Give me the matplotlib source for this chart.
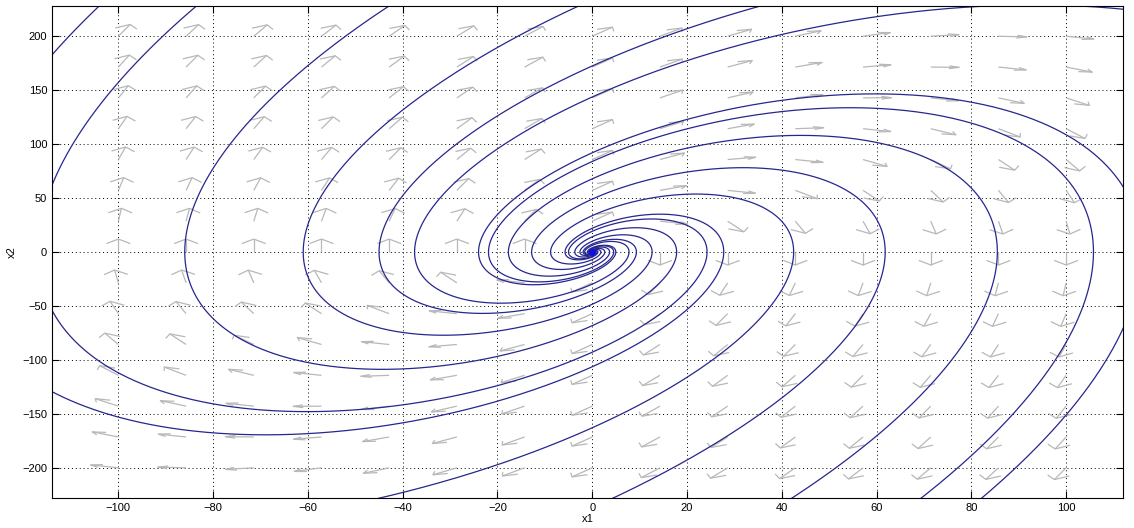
import numpy as np
import matplotlib.pyplot as plt
from matplotlib.collections import LineCollection

# linear system x' = A x (unstable focus, clockwise)
A = np.array([[0.0, 0.963],
              [-4.667, 1.9]])

# x1 values where each drawn orbit crosses the negative x1 axis
x1_seeds = [-134.0, -117.0, -86.0, -61.0, -45.0, -37.5, -24.0, -21.9, -17.7, -12.8, -8.8]

# direction field grid
x1_grid = np.linspace(-100, 100, 15)
x2_grid = np.linspace(-200, 200, 15)

x_ticks = np.arange(-100, 101, 20)
y_ticks = np.arange(-200, 201, 50)
x_lim = (-114, 112)
y_lim = (-228, 228)

plt.rcParams['font.family'] = ['Liberation Sans', 'DejaVu Sans']

fig = plt.figure(figsize=(11.34, 5.28), dpi=100)
ax = fig.add_axes([0.0459, 0.0568, 0.9444, 0.9318])

# direction field, arrows of fixed length in grid-cell units, heads built like quiver.m
X1, X2 = np.meshgrid(x1_grid, x2_grid)
U = A[0, 0] * X1 + A[0, 1] * X2
V = A[1, 0] * X1 + A[1, 1] * X2
dx = x1_grid[1] - x1_grid[0]
dy = x2_grid[1] - x2_grid[0]
L = np.hypot(U / dx, V / dy)
L[L == 0] = 1
u = 0.42 * dx * (U / dx) / L
v = 0.42 * dy * (V / dy) / L
alpha, beta = 0.35, 0.6
segs = []
for x, y, a, b in zip(X1.ravel(), X2.ravel(), u.ravel(), v.ravel()):
    tip = (x + a, y + b)
    segs.append([(x, y), tip])
    segs.append([(x + a - alpha * (a + beta * b), y + b - alpha * (b - beta * a)), tip,
                 (x + a - alpha * (a - beta * b), y + b - alpha * (b + beta * a))])
ax.add_collection(LineCollection(segs, colors='#b8b8b8', linewidths=0.9))

# orbits from the closed-form solution x(t) = V exp(Lt) V^-1 x0
lam, Vec = np.linalg.eig(A)
Vinv = np.linalg.inv(Vec)
growth = lam.real.max()
for r0 in x1_seeds:
    c = Vinv @ np.array([r0, 0.0])
    r = abs(r0)
    t = np.linspace(-np.log(r / 0.05) / growth, np.log(3000 / r) / growth, 6000)
    xy = (Vec @ (c[:, None] * np.exp(np.outer(lam, t)))).real
    ax.plot(xy[0], xy[1], color='#26268f', lw=0.9)
ax.plot(0, 0, 'o', color='#1010e0', ms=4)

ax.set_xlim(x_lim)
ax.set_ylim(y_lim)
ax.set_xticks(x_ticks)
ax.set_yticks(y_ticks)
ax.grid(True, color='black', linestyle=(0, (1, 3)), linewidth=0.7)
ax.tick_params(direction='in', length=5, top=True, right=True, labelsize=8)
for s in ax.spines.values():
    s.set_linewidth(0.8)
ax.set_xlabel('x1', fontsize=8, labelpad=1)
ax.set_ylabel('x2', fontsize=8, labelpad=4)

fig.savefig('out.png', dpi=100)
